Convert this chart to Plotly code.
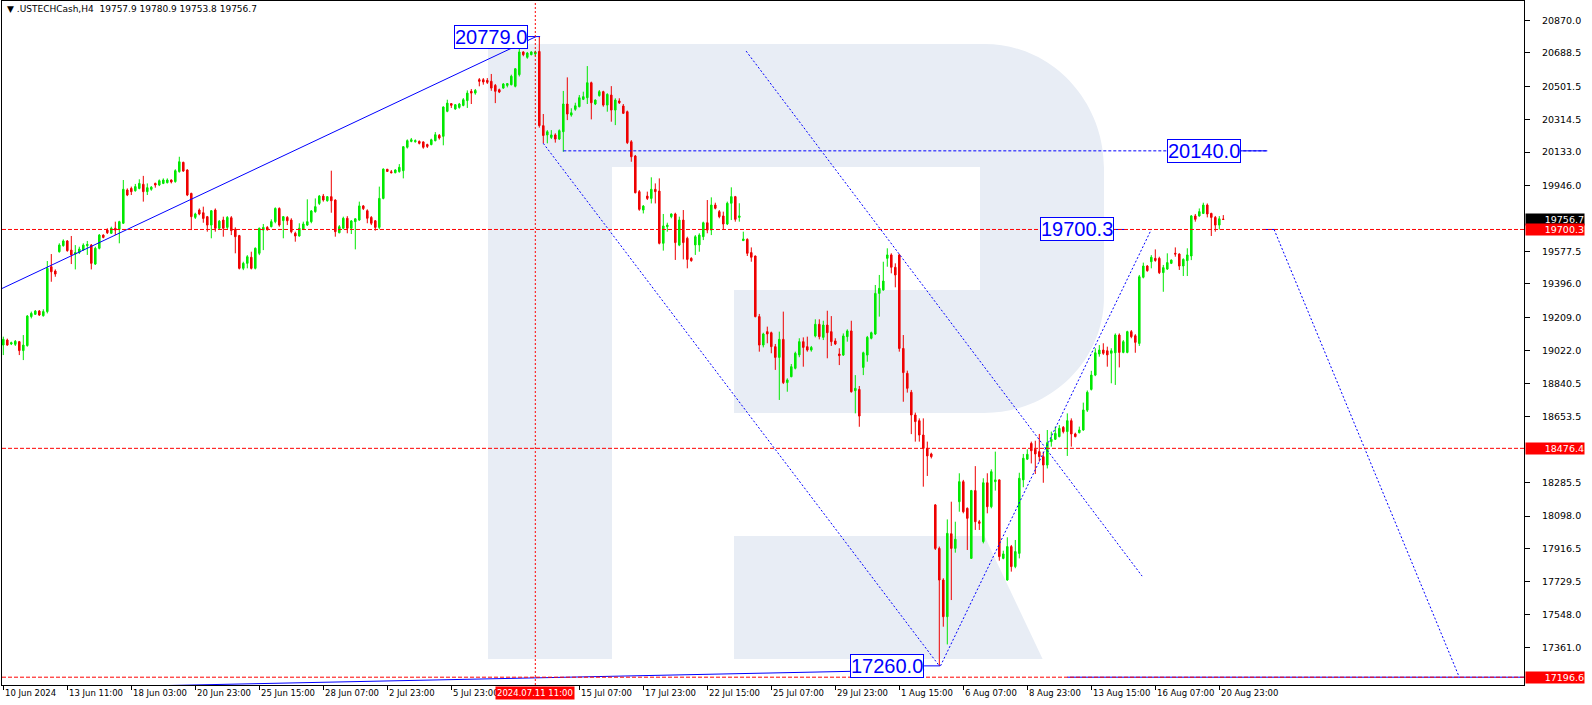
import plotly.graph_objects as go

# ---------------- data (USTECHCash, H4) ----------------
opens = [19054,19082,19060,19058,19073,19023,19051,19213,19226,19244,19218,19241,19492,19468,19576,19610,19636,19585,19563,19571,
         19586,19610,19613,19507,19595,19669,19697,19679,19707,19701,19735,19921,19930,19917,19930,19953,19912,19925,19958,19949,
         19958,19962,19977,19968,20024,20076,20033,19902,19768,19809,19794,19772,19725,19809,19707,19753,19712,19766,19701,19666,
         19483,19511,19545,19483,19567,19697,19712,19716,19744,19818,19750,19768,19753,19679,19664,19701,19725,19744,19800,19846,
         19887,19861,19884,19865,19682,19707,19763,19707,19744,19753,19832,19805,19768,19749,19712,19874,20037,20023,20018,20024,
         20029,20160,20193,20191,20193,20190,20175,20175,20197,20227,20221,20361,20404,20374,20383,20394,20421,20473,20463,20538,
         20538,20534,20529,20506,20482,20491,20506,20510,20501,20566,20693,20663,20678,20682,20696,20281,20229,20215,20229,20206,
         20247,20402,20340,20372,20387,20428,20437,20521,20402,20449,20471,20396,20452,20368,20419,20391,20359,20191,20111,19912,
         19809,19887,19874,19925,19915,19623,19716,19772,19787,19613,19753,19651,19539,19614,19614,19660,19738,19697,19837,19800,
         19776,19731,19847,19884,19768,19638,19645,19571,19552,19213,19054,19129,19123,19045,18985,19086,18844,18877,18924,18999,
         19073,19045,19026,19105,19170,19097,19166,19129,19077,19004,18998,19101,19133,18799,18806,18929,18998,19092,19116,19343,
         19362,19539,19558,19489,19558,19035,18896,18790,18663,18631,18551,18476,18445,18160,17917,17740,17535,17999,17917,18178,
         18290,18141,17861,18240,18066,17955,18284,18150,18290,18300,17861,17740,17927,17815,17889,18300,18416,18504,18471,18458,
         18430,18383,18514,18527,18542,18594,18570,18631,18557,18564,18579,18690,18806,18886,19004,19026,19022,19008,19011,19110,
         19013,19013,19129,19106,19063,19433,19496,19520,19539,19539,19459,19479,19511,19567,19563,19496,19526,19552,19776,19776,
         19790,19837,19790,19768,19725,19757.9]
highs = [19101,19090,19073,19082,19077,19110,19222,19241,19250,19250,19254,19524,19563,19477,19623,19645,19641,19664,19613,19604,
         19623,19636,19619,19604,19675,19673,19707,19716,19744,19749,19977,19930,19940,19955,19981,20000,19958,19943,19962,19980,
         19986,19986,19980,20037,20107,20079,20037,19906,19794,19818,19828,19776,19809,19818,19753,19772,19775,19775,19712,19670,
         19520,19557,19576,19600,19711,19731,19719,19757,19824,19824,19775,19775,19763,19688,19735,19744,19869,19809,19874,19893,
         19899,19887,20029,19869,19725,19772,19775,19753,19763,19856,19837,19813,19775,19753,19940,20042,20039,20033,20037,20066,
         20167,20204,20212,20204,20198,20193,20180,20208,20245,20234,20389,20426,20407,20402,20408,20435,20478,20486,20486,20547,
         20547,20547,20570,20514,20488,20519,20519,20566,20603,20715,20697,20693,20697,20700,20779,20346,20256,20256,20238,20260,
         20475,20551,20378,20409,20452,20471,20614,20527,20428,20480,20476,20462,20502,20434,20434,20402,20365,20200,20117,19921,
         19837,19912,19992,19958,19986,19787,19738,19790,19794,19772,19809,19660,19545,19669,19679,19744,19865,19880,19850,19809,
         19800,19856,19936,19888,19847,19688,19651,19600,19554,19228,19123,19157,19129,19060,19129,19241,18868,18948,19017,19092,
         19097,19101,19049,19198,19198,19190,19246,19216,19092,19036,19119,19142,19190,18886,18825,19017,19105,19129,19390,19446,
         19520,19595,19567,19511,19563,19110,18911,18803,18676,18644,18644,18514,18452,18165,17927,17750,18079,18178,18066,18337,
         18300,18146,18244,18377,18076,18309,18337,18359,18458,18303,17904,17979,17936,17964,18340,18445,18471,18514,18519,18557,
         18458,18579,18570,18598,18607,18601,18672,18644,18564,18598,18732,18800,18910,19036,19054,19064,19045,19036,19119,19119,
         19082,19134,19138,19115,19446,19515,19501,19557,19589,19548,19502,19567,19533,19600,19567,19539,19595,19781,19787,19818,
         19850,19846,19794,19776,19775,19780.9]
lows = [18998,19050,19054,19049,18998,18970,19045,19203,19222,19217,19213,19231,19408,19436,19571,19604,19576,19507,19477,19563,
        19582,19558,19477,19502,19589,19651,19675,19675,19669,19623,19731,19887,19893,19912,19925,19856,19893,19917,19934,19943,
        19954,19958,19958,19962,20018,20023,19887,19697,19759,19780,19738,19688,19651,19688,19701,19660,19701,19669,19567,19477,
        19473,19483,19477,19477,19557,19585,19693,19712,19735,19716,19651,19725,19679,19632,19660,19697,19720,19735,19794,19837,
        19856,19856,19794,19660,19679,19701,19679,19675,19589,19749,19809,19735,19725,19694,19701,19869,20022,20014,20014,20018,
        19986,20153,20188,20186,20176,20152,20156,20171,20193,20203,20171,20356,20380,20370,20376,20389,20380,20402,20454,20501,
        20510,20514,20476,20407,20463,20487,20495,20506,20495,20556,20669,20655,20674,20669,20270,20182,20182,20206,20186,20201,
        20135,20312,20331,20364,20383,20424,20402,20316,20396,20443,20387,20359,20303,20284,20402,20346,20178,20079,19902,19805,
        19790,19865,19846,19846,19617,19582,19688,19763,19530,19607,19533,19483,19520,19558,19576,19641,19679,19669,19813,19763,
        19701,19725,19753,19744,19744,19636,19552,19520,19209,19017,19041,19064,19008,18915,18747,18836,18793,18874,18918,18986,
        18933,19017,19017,19097,19086,19082,18980,19049,19054,18942,18993,19073,18788,18672,18597,18886,18961,19086,19110,19213,
        19358,19492,19455,19377,19017,18737,18788,18556,18514,18514,18262,18322,18420,17908,17260,17479,17380,17628,17893,18122,
        18113,17908,17861,18020,18020,17945,18113,18141,18240,17848,17856,17736,17787,17806,17861,18259,18411,18392,18333,18402,
        18284,18364,18486,18523,18538,18560,18434,18486,18538,18560,18575,18680,18800,18880,18989,18999,18933,18840,18831,18929,
        19008,19008,19092,19011,19049,19427,19464,19483,19520,19451,19352,19474,19507,19548,19474,19440,19440,19529,19744,19772,
        19787,19768,19664,19688,19700,19753.8]
closes = [19086,19054,19067,19075,19023,19054,19216,19231,19244,19222,19241,19483,19464,19451,19613,19636,19582,19558,19571,19591,
          19613,19617,19511,19595,19669,19656,19682,19707,19697,19744,19925,19893,19912,19940,19958,19912,19934,19937,19949,19973,
          19977,19977,19966,20029,20079,20027,19893,19772,19787,19787,19762,19725,19805,19707,19747,19707,19768,19694,19660,19483,
          19511,19548,19483,19595,19707,19712,19701,19744,19818,19725,19772,19749,19688,19664,19707,19731,19744,19804,19828,19887,
          19865,19884,19861,19688,19716,19763,19707,19748,19760,19832,19817,19763,19735,19712,19874,20038,20025,20018,20033,20048,
          20163,20197,20202,20197,20182,20160,20165,20202,20230,20212,20385,20407,20395,20398,20402,20426,20463,20463,20478,20529,
          20525,20523,20491,20473,20469,20514,20516,20557,20599,20693,20678,20687,20693,20693,20281,20226,20247,20229,20206,20253,
          20402,20346,20353,20392,20437,20443,20521,20409,20424,20471,20396,20456,20368,20424,20409,20350,20186,20107,19906,19813,
          19831,19874,19925,19912,19623,19720,19725,19787,19627,19753,19627,19533,19526,19660,19669,19738,19697,19837,19819,19772,
          19731,19847,19884,19757,19776,19647,19567,19545,19213,19054,19116,19116,19045,18985,19086,18844,18859,18933,19008,19073,
          19041,19026,19041,19170,19101,19166,19123,19073,19060,18995,19105,19133,18793,18812,18657,19011,19097,19123,19343,19371,
          19412,19558,19489,19446,19035,18900,18812,18663,18626,18551,18476,18434,18430,17917,17740,17535,18001,17917,17968,18290,
          18122,18085,18240,18066,18057,18284,18150,18346,18300,17871,17886,17927,17815,17899,18309,18421,18443,18463,18445,18430,
          18383,18508,18527,18560,18588,18570,18631,18557,18542,18579,18691,18790,18886,19011,19026,19008,18999,19022,19110,19013,
          19073,19129,19101,19069,19436,19496,19470,19545,19527,19459,19487,19515,19529,19563,19496,19533,19558,19776,19757,19800,
          19837,19787,19768,19725,19760,19756.7]
bars = list(range(len(opens)))

x_tick_bars = [0, 16, 32, 48, 64, 80, 96, 112, 144, 160, 176, 192, 208, 224, 240, 256, 272, 288, 304]
x_tick_text = ["10 Jun 2024", "13 Jun 11:00", "18 Jun 03:00", "20 Jun 23:00", "25 Jun 15:00", "28 Jun 07:00",
               "2 Jul 23:00", "5 Jul 23:00", "15 Jul 07:00", "17 Jul 23:00", "22 Jul 15:00", "25 Jul 07:00",
               "29 Jul 23:00", "1 Aug 15:00", "6 Aug 07:00", "8 Aug 23:00", "13 Aug 15:00", "16 Aug 07:00", "20 Aug 23:00"]
cursor_bar = 133
cursor_text = "2024.07.11 11:00"

y_tick_vals = [20870.0, 20688.5, 20501.5, 20314.5, 20133.0, 19946.0, 19577.5, 19396.0, 19209.0, 19022.0,
               18840.5, 18653.5, 18285.5, 18098.0, 17916.5, 17729.5, 17548.0, 17361.0]

level_lines = [19700.3, 18476.4, 17196.6]
last_price = 19756.7

# analysis drawings (time in bars, price)
trend_x, trend_y = [-0.83, 133.2], [19365, 20779]
base_x, base_y = [0, 230.2], [17131, 17238]
chan1_x, chan1_y = [135, 234], [20182, 17260]
chan2_x, chan2_y = [185.7, 284.7], [20698, 17762]
rise_x, rise_y = [234.3, 287.0], [17260, 19700.3]
proj_x, proj_y = [317.7, 364.0], [19700.3, 17196.6]
target_x, target_y = [140, 316], [20140, 20140]
floor_x, floor_y = [266, 390], [17196.6, 17196.6]
tick_x, tick_y = [315, 318], [19700.3, 19700.3]
label_vals = [20779.0, 20140.0, 19700.3, 17260.0]
label_right_bar = [131.2, 309.4, 277.7, 230.2]
label_point_bar = [134.2, 316.0, 280.3, 234.2]

# ---------------- styling / geometry ----------------
W, H = 1592, 705
L, R, T, B = 2, 68, 1, 20
PW, PH = W - L - R, H - T - B
BULL, BEAR = "#00e800", "#ee0000"
BLUE = "#0000ff"
x_range = [-0.325, -0.325 + PW / 4.0]
y_range = [17153.0, 20978.0]
XFONT = dict(family="DejaVu Sans", size=8.5, color="black")
YFONT = dict(family="DejaVu Sans", size=9.5, color="black")

fig = go.Figure()
fig.add_trace(go.Candlestick(
    x=bars, open=opens, high=highs, low=lows, close=closes,
    increasing=dict(line=dict(color=BULL, width=1), fillcolor=BULL),
    decreasing=dict(line=dict(color=BEAR, width=1), fillcolor=BEAR),
    whiskerwidth=0, showlegend=False, hoverinfo="skip"))


def seg(xs, ys, dash="solid", color=BLUE, width=1):
    fig.add_trace(go.Scatter(x=xs, y=ys, mode="lines", showlegend=False, hoverinfo="skip",
                             line=dict(color=color, width=width, dash=dash)))


seg(trend_x, trend_y)
seg(base_x, base_y)
seg(chan1_x, chan1_y, "2px,2px")
seg(chan2_x, chan2_y, "2px,2px")
seg(rise_x, rise_y, "2px,2px")
seg(proj_x, proj_y, "2px,2px")
seg(target_x, target_y, "3px,2px")
seg(floor_x, floor_y)
seg(tick_x, tick_y)
for rb, pb, v in zip(label_right_bar, label_point_bar, label_vals):
    seg([rb, pb], [v, v])

# watermark "R" (pixel outline converted to paper coords)
def P(x, y):
    return f"{(x - L) / PW:.5f},{1 - (y - T) / PH:.5f}"

k = 0.552
r_main = ("M " + P(488, 44) + " L " + P(984.5, 44) +
          " C " + P(984.5 + k * 119.5, 44) + " " + P(1104, 168 - k * 124) + " " + P(1104, 168) +
          " L " + P(1104, 297) +
          " C " + P(1104, 297 + k * 116) + " " + P(984.5 + k * 119.5, 413) + " " + P(984.5, 413) +
          " L " + P(734, 413) + " L " + P(734, 290) + " L " + P(980, 290) + " L " + P(980, 167) +
          " L " + P(612, 167) + " L " + P(612, 659) + " L " + P(488, 659) + " Z")
r_leg = ("M " + P(734, 536) + " L " + P(984.5, 536) + " L " + P(1042.6, 659) + " L " + P(734, 659) + " Z")
shapes = []
for pth in (r_main, r_leg):
    shapes.append(dict(type="path", path=pth, xref="paper", yref="paper", layer="below",
                       fillcolor="#e8edf5", line=dict(width=0)))
for v in level_lines:
    shapes.append(dict(type="line", xref="paper", yref="y", x0=0, x1=1, y0=v, y1=v,
                       line=dict(color="#ff0000", width=1, dash="4px,2px")))
shapes.append(dict(type="line", xref="x", yref="paper", x0=cursor_bar, x1=cursor_bar, y0=0, y1=1,
                   line=dict(color="#ff0000", width=1, dash="2px,2px")))

ann = []
ann.append(dict(text="▼ .USTECHCash,H4  19757.9 19780.9 19753.8 19756.7", xref="paper", yref="paper",
                x=0, y=1, xanchor="left", yanchor="top", xshift=3, yshift=-1, showarrow=False,
                font=dict(family="DejaVu Sans", size=9, color="black")))
for b, t in zip(x_tick_bars, x_tick_text):
    ann.append(dict(text=t, x=b, xref="x", y=0, yref="paper", xanchor="left", yanchor="top",
                    yshift=-1, showarrow=False, font=XFONT))
ann.append(dict(text=cursor_text, x=cursor_bar, xref="x", y=0, yref="paper", xanchor="center",
                yanchor="top", yshift=-1, showarrow=False, bgcolor="#ff0000", borderpad=1,
                font=dict(family="DejaVu Sans", size=8.5, color="white")))
for v, rb in zip(label_vals, label_right_bar):
    ann.append(dict(text=f"{v:.1f}", x=rb, xref="x", y=v, yref="y", xanchor="right", yanchor="middle",
                    showarrow=False, bgcolor="white", bordercolor=BLUE, borderwidth=1, borderpad=0,
                    font=dict(family="Liberation Sans", size=20, color=BLUE)))
for v, bg in [(last_price, "black")] + [(lv, "#ff0000") for lv in level_lines]:
    ann.append(dict(text=f"{v:.1f}", x=1, xref="paper", y=v, yref="y", xanchor="left", yanchor="middle",
                    xshift=1, width=58, align="right", showarrow=False, bgcolor=bg, borderpad=0,
                    font=dict(family="DejaVu Sans", size=9.5, color="white")))

fig.update_layout(
    width=W, height=H, margin=dict(l=L, r=R, t=T, b=B, autoexpand=False),
    paper_bgcolor="white", plot_bgcolor="white", boxgap=0.45, hovermode=False,
    shapes=shapes, annotations=ann, showlegend=False,
    xaxis=dict(range=x_range, rangeslider=dict(visible=False), showgrid=False, zeroline=False,
               tickvals=x_tick_bars, showticklabels=False, ticks="outside", ticklen=4,
               tickcolor="black", showline=True, mirror=True, linecolor="black", linewidth=1),
    yaxis=dict(range=y_range, side="right", showgrid=False, zeroline=False,
               tickvals=y_tick_vals, ticktext=[f"{v:.1f}" for v in y_tick_vals],
               ticks="outside", ticklen=5, tickcolor="black", tickfont=YFONT, ticklabelstandoff=10,
               showline=True, mirror=True, linecolor="black", linewidth=1),
)

fig.write_html("out.html", config={"displayModeBar": False},
               post_script="document.body.style.margin='0px';")
